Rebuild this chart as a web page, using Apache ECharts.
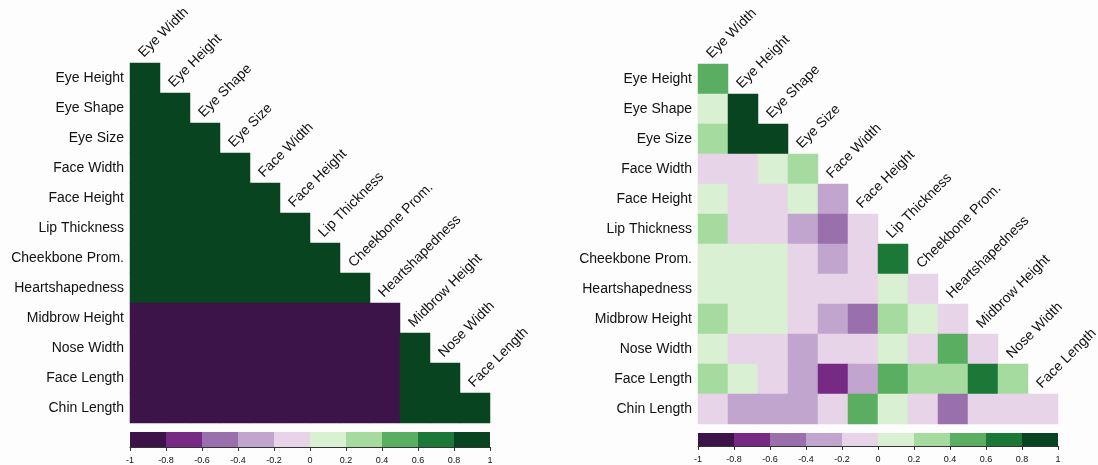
<!DOCTYPE html>
<html>
<head>
<meta charset="utf-8">
<script src="https://cdn.jsdelivr.net/npm/echarts@6/dist/echarts.min.js"></script>
<style>
  html, body { margin: 0; padding: 0; background: #fdfdfd; }
  #chart { width: 1098px; height: 465px; }
</style>
</head>
<body>
<div id="chart"></div>
<script>
// rows (y) and columns (x) of the lower triangle
const rowLabels = ["Eye Height", "Eye Shape", "Eye Size", "Face Width", "Face Height", "Lip Thickness",
  "Cheekbone Prom.", "Heartshapedness", "Midbrow Height", "Nose Width", "Face Length", "Chin Length"];
const colLabels = ["Eye Width", "Eye Height", "Eye Shape", "Eye Size", "Face Width", "Face Height",
  "Lip Thickness", "Cheekbone Prom.", "Heartshapedness", "Midbrow Height", "Nose Width", "Face Length"];

// left panel, row i holds columns 0..i
const leftValues = [
  [0.95],
  [0.95, 0.95],
  [0.95, 0.95, 0.95],
  [0.95, 0.95, 0.95, 0.95],
  [0.95, 0.95, 0.95, 0.95, 0.95],
  [0.95, 0.95, 0.95, 0.95, 0.95, 0.95],
  [0.95, 0.95, 0.95, 0.95, 0.95, 0.95, 0.95],
  [0.95, 0.95, 0.95, 0.95, 0.95, 0.95, 0.95, 0.95],
  [-0.95, -0.95, -0.95, -0.95, -0.95, -0.95, -0.95, -0.95, -0.95],
  [-0.95, -0.95, -0.95, -0.95, -0.95, -0.95, -0.95, -0.95, -0.95, 0.95],
  [-0.95, -0.95, -0.95, -0.95, -0.95, -0.95, -0.95, -0.95, -0.95, 0.95, 0.95],
  [-0.95, -0.95, -0.95, -0.95, -0.95, -0.95, -0.95, -0.95, -0.95, 0.95, 0.95, 0.95]
];

// right panel
const rightValues = [
  [0.5],
  [0.1, 0.9],
  [0.3, 0.9, 0.9],
  [-0.1, -0.1, 0.1, 0.3],
  [0.1, -0.1, -0.1, 0.1, -0.3],
  [0.3, -0.1, -0.1, -0.3, -0.5, -0.1],
  [0.1, 0.1, 0.1, -0.1, -0.3, -0.1, 0.7],
  [0.1, 0.1, 0.1, -0.1, -0.1, -0.1, 0.1, -0.1],
  [0.3, 0.1, 0.1, -0.1, -0.3, -0.5, 0.3, 0.1, -0.1],
  [0.1, -0.1, -0.1, -0.3, -0.1, -0.1, 0.1, -0.1, 0.5, -0.1],
  [0.3, 0.1, -0.1, -0.3, -0.7, -0.3, 0.5, 0.3, 0.3, 0.7, 0.3],
  [-0.1, -0.3, -0.3, -0.3, -0.1, 0.5, 0.1, -0.1, -0.5, -0.1, -0.1, -0.1]
];

// colour bar bins
const binLows = [-1, -0.8, -0.6, -0.4, -0.2, 0, 0.2, 0.4, 0.6, 0.8];
const binColors = ["#3d1449", "#762a83", "#9970ab", "#c2a5cf", "#e7d4e8",
  "#d9f0d3", "#a6dba0", "#5aae61", "#1b7837", "#08441f"];

const FONT = '"Liberation Sans", Arial, sans-serif';

function cells(values) {
  const out = [];
  values.forEach((row, i) => row.forEach((v, j) => out.push([j, i, v])));
  return out;
}

const diag = colLabels.map((c, i) => [i, i]);

function labelItem(params, api) {
  const p = api.coord([api.value(0), api.value(1)]);
  const s = api.size([1, 1]);
  return {
    type: "text",
    x: p[0] + 1,
    y: p[1] - s[1] / 2 - 3,
    rotation: Math.PI / 4,
    style: {
      text: colLabels[api.value(0)],
      fill: "#111",
      font: "14px " + FONT,
      align: "left",
      verticalAlign: "bottom"
    }
  };
}

function barItem(params, api) {
  const lo = api.value(0);
  const a = api.coord([lo, 0]);
  const b = api.coord([lo + 0.2, 0]);
  const h = api.size([0, 1])[1];
  return {
    type: "rect",
    shape: { x: a[0], y: a[1] - h / 2, width: b[0] - a[0], height: h },
    style: { fill: binColors[params.dataIndex] }
  };
}

// whole-pixel cells (30px) so neighbouring rects don't show seams
const grids = [
  { left: 130, top: 63, width: 360, height: 360 },
  { left: 698, top: 64, width: 360, height: 360 },
  { left: 130, top: 432, width: 360, height: 15 },
  { left: 698, top: 433, width: 360, height: 13 }
];

const heatX = gi => ({
  type: "category", gridIndex: gi, data: colLabels, show: false
});
const heatY = gi => ({
  type: "category", gridIndex: gi, data: rowLabels, inverse: true,
  axisLine: { show: false }, axisTick: { show: false },
  axisLabel: { color: "#111", fontSize: 14, fontFamily: FONT, margin: 6 }
});
const barX = gi => ({
  type: "value", gridIndex: gi, min: -1, max: 1, interval: 0.2,
  splitLine: { show: false },
  axisLine: { show: true, lineStyle: { color: "#333", width: 1 } },
  axisTick: { show: true, length: 4, lineStyle: { color: "#333" } },
  axisLabel: { color: "#111", fontSize: 9, fontFamily: FONT, margin: 9 }
});
const barY = gi => ({ type: "category", gridIndex: gi, data: ["bar"], show: false });

const chart = echarts.init(document.getElementById("chart"));
chart.setOption({
  backgroundColor: "#fdfdfd",
  animation: false,
  grid: grids,
  xAxis: [heatX(0), heatX(1), barX(2), barX(3)],
  yAxis: [heatY(0), heatY(1), barY(2), barY(3)],
  visualMap: {
    type: "piecewise",
    show: false,
    seriesIndex: [0, 1],
    pieces: binLows.map((lo, i) => ({ min: lo, max: lo + 0.2, color: binColors[i] }))
  },
  series: [
    { type: "heatmap", xAxisIndex: 0, yAxisIndex: 0, data: cells(leftValues) },
    { type: "heatmap", xAxisIndex: 1, yAxisIndex: 1, data: cells(rightValues) },
    { type: "custom", xAxisIndex: 0, yAxisIndex: 0, data: diag, renderItem: labelItem, clip: false },
    { type: "custom", xAxisIndex: 1, yAxisIndex: 1, data: diag, renderItem: labelItem, clip: false },
    { type: "custom", xAxisIndex: 2, yAxisIndex: 2, data: binLows.map(v => [v, 0]), renderItem: barItem },
    { type: "custom", xAxisIndex: 3, yAxisIndex: 3, data: binLows.map(v => [v, 0]), renderItem: barItem }
  ]
});
</script>
</body>
</html>
